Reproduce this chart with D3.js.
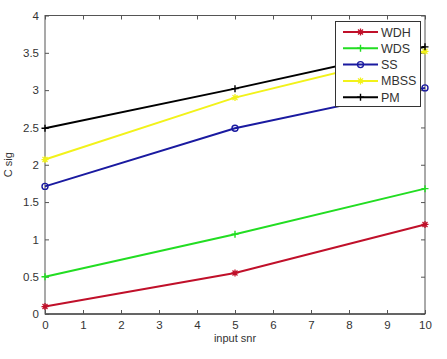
<!DOCTYPE html>
<html><head><meta charset="utf-8">
<script src="https://cdn.jsdelivr.net/npm/d3@7"></script>
<style>body{margin:0;background:#fff}text{font-family:"Liberation Sans",Arial,sans-serif}</style>
</head><body>
<script>
const xValues = [0, 5, 10];
const seriesNames = ["WDH", "WDS", "SS", "MBSS", "PM"];
const WDH = [0.10, 0.55, 1.20];
const WDS = [0.50, 1.07, 1.68];
const SS = [1.71, 2.49, 3.03];
const MBSS = [2.07, 2.90, 3.52];
const PM = [2.49, 3.02, 3.58];
const xTicks = [0,1,2,3,4,5,6,7,8,9,10];
const yTicks = [0,0.5,1,1.5,2,2.5,3,3.5,4];

const colors = {WDH:"#c0102a", WDS:"#22dd22", SS:"#1a1aa0", MBSS:"#f2f21a", PM:"#000000"};
const markers = {WDH:"star", WDS:"plus", SS:"circle", MBSS:"star", PM:"plus"};
const data = {WDH, WDS, SS, MBSS, PM};

const W=447,H=359;
const svg=d3.select("body").append("svg").attr("width",W).attr("height",H);
const L=45,R=425,T=15.5,B=314;
const x=d3.scaleLinear().domain([0,10]).range([L,R]);
const y=d3.scaleLinear().domain([0,4]).range([B,T]);

const axColor="#555";
svg.append("rect").attr("x",L).attr("y",T).attr("width",R-L).attr("height",B-T).attr("fill","none").attr("stroke",axColor).attr("stroke-width",1);
svg.append("line").attr("x1",L).attr("x2",R).attr("y1",B).attr("y2",B).attr("stroke","#222");

const gx=svg.append("g").attr("transform",`translate(0,${B})`).call(d3.axisBottom(x).tickValues(xTicks).tickSizeInner(-4).tickSizeOuter(0).tickPadding(7).tickFormat(d3.format("d")));
const gxt=svg.append("g").attr("transform",`translate(0,${T})`).call(d3.axisTop(x).tickValues(xTicks).tickSizeInner(-4).tickSizeOuter(0).tickFormat(""));
const gy=svg.append("g").attr("transform",`translate(${L},0)`).call(d3.axisLeft(y).tickValues(yTicks).tickSizeInner(-4).tickSizeOuter(0).tickPadding(6).tickFormat(d=>d));
const gyr=svg.append("g").attr("transform",`translate(${R},0)`).call(d3.axisRight(y).tickValues(yTicks).tickSizeInner(-4).tickSizeOuter(0).tickFormat(""));
[gx,gxt,gy,gyr].forEach(g=>{g.select(".domain").remove();g.selectAll("line").attr("stroke",axColor);g.selectAll("text").attr("fill","#333").style("font-size","11.5px");});

function drawMarker(g,type,cx,cy,col){
  if(type==="circle"){g.append("circle").attr("cx",cx).attr("cy",cy).attr("r",3).attr("fill","none").attr("stroke",col).attr("stroke-width",1.4);}
  else if(type==="plus"){g.append("path").attr("d",`M${cx-3.5},${cy}H${cx+3.5}M${cx},${cy-3.5}V${cy+3.5}`).attr("stroke",col).attr("stroke-width",1.4);}
  else {g.append("path").attr("d",`M${cx-3.5},${cy}H${cx+3.5}M${cx},${cy-3.5}V${cy+3.5}M${cx-2.5},${cy-2.5}L${cx+2.5},${cy+2.5}M${cx-2.5},${cy+2.5}L${cx+2.5},${cy-2.5}`).attr("stroke",col).attr("stroke-width",1.3);}
}

const line=d3.line().x((d,i)=>x(xValues[i])).y(d=>y(d));
const plot=svg.append("g");
seriesNames.forEach(n=>{
  plot.append("path").datum(data[n]).attr("d",line).attr("fill","none").attr("stroke",colors[n]).attr("stroke-width",2);
  data[n].forEach((v,i)=>drawMarker(plot,markers[n],x(xValues[i]),y(v),colors[n]));
});

const lg=svg.append("g");
lg.append("rect").attr("x",335.5).attr("y",21.5).attr("width",85).attr("height",85).attr("fill","#fff").attr("stroke","#333").attr("stroke-width",1);
seriesNames.forEach((n,i)=>{
  const yy=32+i*16.3;
  lg.append("line").attr("x1",343).attr("x2",378).attr("y1",yy).attr("y2",yy).attr("stroke",colors[n]).attr("stroke-width",2);
  drawMarker(lg,markers[n],360.5,yy,colors[n]);
  lg.append("text").attr("x",381).attr("y",yy+4.5).text(n).attr("fill","#333").style("font-size","12.5px");
});

svg.append("text").attr("x",(L+R)/2).attr("y",342).attr("text-anchor","middle").attr("fill","#333").style("font-size","11px").text("input snr");
svg.append("text").attr("transform",`translate(12,${(T+B)/2}) rotate(-90)`).attr("text-anchor","middle").attr("fill","#333").style("font-size","11px").text("C sig");
</script>
</body></html>
